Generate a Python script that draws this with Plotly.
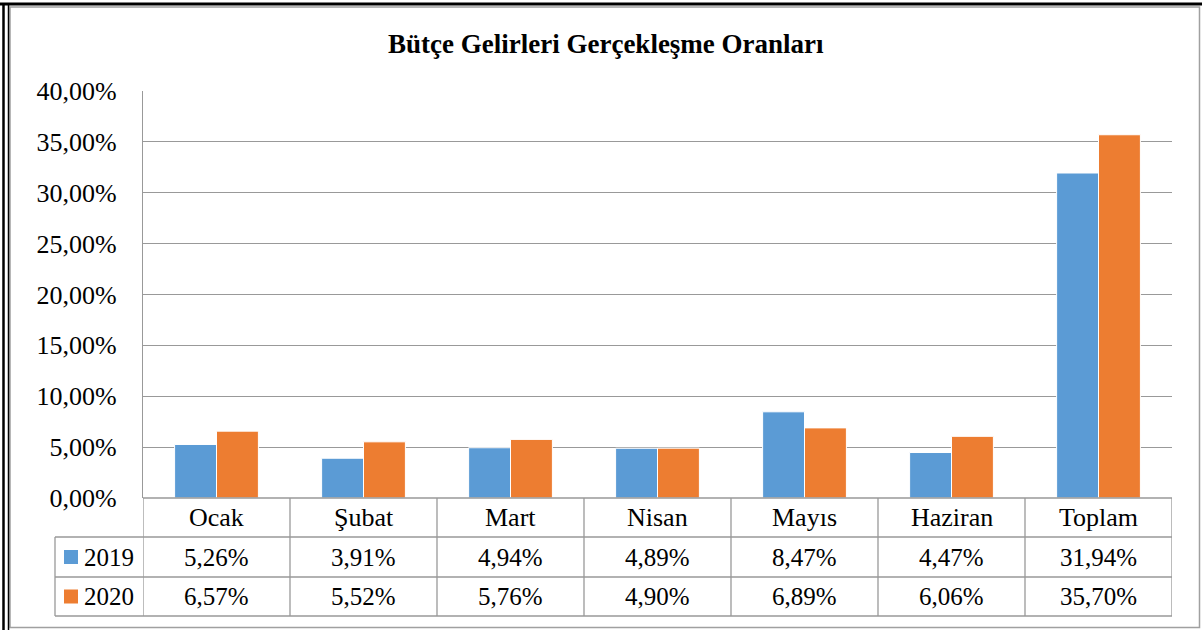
import plotly.graph_objects as go

categories = ["Ocak", "Şubat", "Mart", "Nisan", "Mayıs", "Haziran", "Toplam"]
series_names = ["2019", "2020"]
values_2019 = [5.26, 3.91, 4.94, 4.89, 8.47, 4.47, 31.94]
values_2020 = [6.57, 5.52, 5.76, 4.90, 6.89, 6.06, 35.70]
tick_vals = [0, 5, 10, 15, 20, 25, 30, 35, 40]
tick_text = ["0,00%", "5,00%", "10,00%", "15,00%", "20,00%", "25,00%", "30,00%", "35,00%", "40,00%"]
title_text = "Bütçe Gelirleri Gerçekleşme Oranları"

colors = ["#5B9BD5", "#ED7D31"]
FONT = "Liberation Serif, Times New Roman, serif"
GRID = "#999999"

W, H = 1202, 630
L, R, T, B = 143, 1172, 91, 498


def xp(px):
    return (px - L) / (R - L)


def yp(py):
    return (B - py) / (B - T)


def fmt(v):
    return f"{v:.2f}".replace(".", ",") + "%"


fig = go.Figure()
for name, vals, col in zip(series_names, [values_2019, values_2020], colors):
    fig.add_trace(go.Bar(
        x=categories, y=vals, name=name,
        marker=dict(color=col, line=dict(color="white", width=1)),
        hoverinfo="x+y+name",
    ))

shapes = []
annotations = []

row_tops = [B, 537, 577, 616]
row_centers = [(row_tops[i] + row_tops[i + 1]) / 2 for i in range(3)]
legend_left = 55

shapes.append(dict(type="line", xref="paper", yref="paper", x0=0, x1=1, y0=0, y1=0,
                   line=dict(color=GRID, width=1.3)))
for py in row_tops[1:]:
    shapes.append(dict(type="line", xref="paper", yref="paper", x0=xp(legend_left), x1=1,
                       y0=yp(py), y1=yp(py), line=dict(color=GRID, width=1.3)))
for i in range(len(categories) + 1):
    shapes.append(dict(type="line", xref="x", yref="paper", x0=i - 0.5, x1=i - 0.5,
                       y0=yp(B), y1=yp(row_tops[-1]), line=dict(color=GRID, width=1.3)))
shapes.append(dict(type="line", xref="paper", yref="paper", x0=xp(legend_left), x1=xp(legend_left),
                   y0=yp(row_tops[1]), y1=yp(row_tops[-1]), line=dict(color=GRID, width=1.3)))

for c in categories:
    annotations.append(dict(x=c, xref="x", y=yp(row_centers[0]), yref="paper", text=c,
                            showarrow=False, font=dict(family=FONT, size=26, color="black"),
                            xanchor="center", yanchor="middle"))
for r, (name, vals, col) in enumerate(zip(series_names, [values_2019, values_2020], colors)):
    yc = row_centers[r + 1]
    for c, v in zip(categories, vals):
        annotations.append(dict(x=c, xref="x", y=yp(yc), yref="paper", text=fmt(v),
                                showarrow=False, font=dict(family=FONT, size=25, color="black"),
                                xanchor="center", yanchor="middle"))
    shapes.append(dict(type="rect", xref="paper", yref="paper",
                       x0=xp(64), x1=xp(78), y0=yp(yc - 7), y1=yp(yc + 7),
                       fillcolor=col, line=dict(width=0)))
    annotations.append(dict(x=xp(82), xref="paper", y=yp(yc), yref="paper", text=name,
                            showarrow=False, font=dict(family=FONT, size=25, color="black"),
                            xanchor="left", yanchor="middle"))

# outer frame
shapes.append(dict(type="rect", xref="paper", yref="paper",
                   x0=xp(10), x1=xp(1199.5), y0=yp(7), y1=yp(627.5),
                   line=dict(color="#a0a0a0", width=1.5)))
shapes.append(dict(type="line", xref="paper", yref="paper", x0=xp(0), x1=xp(1202),
                   y0=yp(4), y1=yp(4), line=dict(color="black", width=3)))
shapes.append(dict(type="line", xref="paper", yref="paper", x0=xp(3.5), x1=xp(3.5),
                   y0=yp(3), y1=yp(630), line=dict(color="black", width=2.5)))
shapes.append(dict(type="line", xref="paper", yref="paper", x0=xp(8.5), x1=xp(8.5),
                   y0=yp(3), y1=yp(630), line=dict(color="black", width=1.5)))

annotations.append(dict(x=xp(606), xref="paper", y=yp(44), yref="paper", text=f"<b>{title_text}</b>",
                        showarrow=False, font=dict(family=FONT, size=27, color="black"),
                        xanchor="center", yanchor="middle"))

fig.update_layout(
    width=W, height=H,
    margin=dict(l=L, r=W - R, t=T, b=H - B),
    paper_bgcolor="white", plot_bgcolor="white",
    barmode="group", bargap=0.43, bargroupgap=0,
    showlegend=False,
    shapes=shapes, annotations=annotations,
    font=dict(family=FONT, size=25, color="black"),
    xaxis=dict(type="category", range=[-0.5, len(categories) - 0.5], showticklabels=False,
               showgrid=False, zeroline=False, showline=False, ticks=""),
    yaxis=dict(range=[0, 40], tickvals=tick_vals, ticktext=tick_text, showgrid=True,
               gridcolor=GRID, gridwidth=1.3, zeroline=False, showline=True, linecolor=GRID,
               linewidth=1.3, ticks="", ticklabelstandoff=20,
               tickfont=dict(family=FONT, size=26, color="black")),
)

fig.write_html("out.html",
               config={"displayModeBar": False},
               post_script="document.body.style.margin='0';document.body.style.padding='0';document.body.style.overflow='hidden';")
